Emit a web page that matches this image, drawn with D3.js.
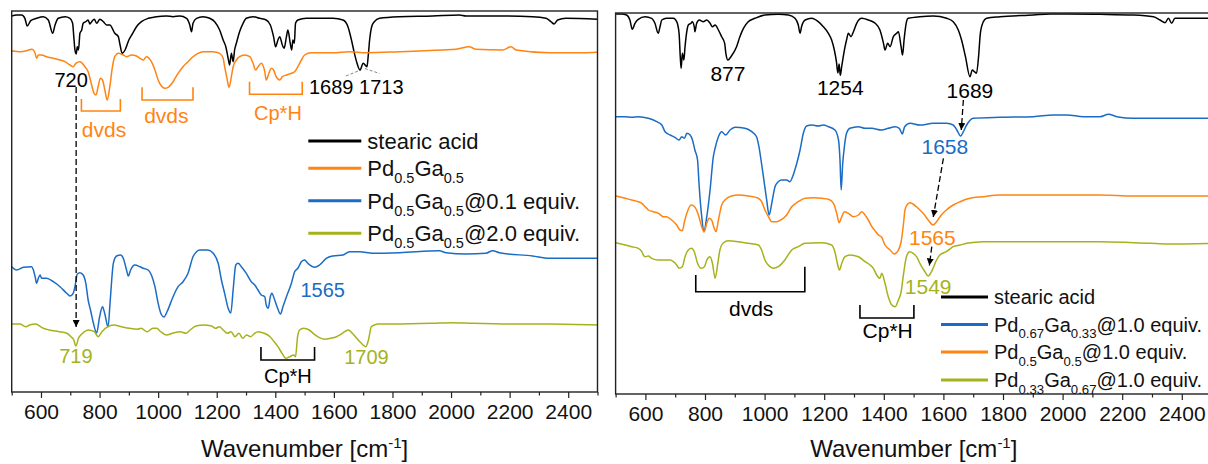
<!DOCTYPE html>
<html>
<head>
<meta charset="utf-8">
<script src="https://cdn.jsdelivr.net/npm/d3@7"></script>
<style>
  html, body { margin: 0; padding: 0; background: #fff; }
  svg { display: block; font-family: "Liberation Sans", Arial, sans-serif; }
</style>
</head>
<body>
<svg id="chart" width="1208" height="464"></svg>
<script>
// ---------- axis ticks ----------
const majorTicks = [600, 800, 1000, 1200, 1400, 1600, 1800, 2000, 2200, 2400];
const minorTicks = [500, 700, 900, 1100, 1300, 1500, 1700, 1900, 2100, 2300, 2500];
const wnDomain = [500, 2500];
const intensityDomain = [0, 381]; // stacked, offset intensity (a.u.)

// ---------- left panel spectra: [wavenumber cm-1, offset intensity] ----------
const stearicA = [[500,376],[517,377],[534,377],[545,373.7],[553,366],[565,371.3],[585,373.7],[608,375.3],[625,372],[640,358.7],[648,367],[659,373.7],[682,375.3],[699,373.7],[708,368.7],[712,355.3],[716,342],[720,338],[724,345.3],[728,342],[733,358.7],[739,362],[744,368.7],[753,370.3],[761,372],[767,368],[773,370.3],[782,372.7],[790,368.7],[801,372.7],[813,370.3],[824,367],[835,367],[852,358.7],[864,355.3],[870,347],[877,338.7],[887,342],[900,352],[913,358.7],[926,365.3],[943,370.3],[966,373.7],[994,375.3],[1028,376],[1051,375.3],[1074,376],[1097,373.7],[1108,367],[1114,360.3],[1119,368.7],[1131,373.7],[1153,375.3],[1176,373.7],[1193,370.3],[1210,362],[1222,352],[1231,345.3],[1239,333.7],[1244,327],[1250,338.7],[1256,330.3],[1261,342],[1267,348.7],[1273,355.3],[1278,360.3],[1290,368.7],[1301,373.7],[1324,375.3],[1347,373.7],[1369,372],[1383,367],[1394,355.3],[1401,345.3],[1409,352],[1415,355.3],[1424,347],[1430,343.7],[1438,355.3],[1443,362],[1451,348.7],[1456,342],[1460,352],[1465,348.7],[1469,368.7],[1477,372],[1506,373.7],[1551,373.7],[1597,373.7],[1631,372],[1648,365.3],[1660,352],[1670,338.7],[1679,328.7],[1689,322],[1700,328.7],[1713,325.3],[1717,335.3],[1722,352],[1729,365.3],[1738,370.3],[1756,373.7],[1824,375.3],[1937,376],[2028,377],[2051,376],[2165,376],[2278,375.3],[2324,373.7],[2341,370.3],[2352,368],[2364,372],[2392,373.7],[2500,372.7]];

const pdga55 = [[500,341.3],[528,340.3],[551,341.3],[568,342.7],[574,342],[580,338.7],[585,333.7],[591,337],[602,337],[619,335.3],[642,333.7],[665,332],[682,330.3],[699,327],[710,325.3],[719,328.7],[733,330.3],[750,325.3],[761,320.3],[773,307],[781,298.7],[788,297],[795,305.3],[803,313.7],[810,312],[818,302],[826,292],[835,305.3],[844,325.3],[852,335.3],[864,338.7],[881,337],[892,335.3],[909,337],[926,336],[938,333.7],[949,332],[960,335.3],[977,330.3],[989,322],[1000,312],[1011,306],[1023,303.7],[1034,304.7],[1051,310.3],[1068,318.7],[1085,325.3],[1102,330.3],[1119,335.3],[1136,338.7],[1153,340.3],[1188,340.3],[1210,338.7],[1222,333.7],[1227,325.3],[1235,313.7],[1242,304.7],[1250,315.3],[1256,325.3],[1267,332],[1278,335.3],[1295,337],[1313,335.3],[1324,328.7],[1333,322],[1341,325.3],[1352,328.7],[1364,320.3],[1369,312],[1378,318.7],[1386,323.7],[1394,322],[1403,315.3],[1415,312],[1424,315.3],[1438,317],[1455,318.7],[1466,320.3],[1477,325.3],[1489,332],[1500,337],[1523,339.3],[1597,339.3],[1653,340.3],[1710,339.3],[1824,340.3],[1972,342],[2017,342.7],[2062,345.3],[2085,342.7],[2176,342],[2205,345.3],[2222,342],[2335,339.3],[2449,339.3],[2500,339.7]];

const pdga55At01 = [[500,125.3],[517,122],[540,124.7],[568,125.3],[574,122],[580,115.3],[585,108.7],[591,113.7],[597,117],[602,113.7],[619,113.7],[642,110.3],[665,105.3],[688,98.7],[699,96],[710,98.7],[716,105.3],[724,118],[733,119.3],[744,117],[753,108.7],[761,92],[769,82],[778,70],[790,59],[800,75],[810,85.3],[818,78],[829,65],[836,90],[847,128.7],[858,136],[872,137],[881,133.7],[892,122],[898,116],[906,122],[920,127],[938,125.3],[949,123.7],[966,122],[977,117],[989,105.3],[1000,88.7],[1010,78],[1020,75],[1030,80],[1051,95.3],[1068,105.3],[1085,110.3],[1102,118.7],[1119,135.3],[1131,140.3],[1142,142],[1170,142],[1188,138.7],[1205,128.7],[1216,112],[1227,98.7],[1239,83.7],[1248,79],[1256,102],[1265,127],[1273,128.7],[1284,125.3],[1301,118.7],[1318,110.3],[1330,107],[1341,102],[1352,97],[1364,95.3],[1369,87],[1376,83.7],[1383,95.3],[1388,98.7],[1398,92],[1406,85.3],[1418,78],[1426,85.3],[1438,95.3],[1455,108.7],[1466,120.3],[1477,123.7],[1489,130.3],[1500,132],[1511,128.7],[1534,124.7],[1551,127],[1574,133.7],[1597,136],[1631,137],[1653,140.3],[1688,140.3],[1733,138.7],[1824,139.3],[1960,141.3],[1983,139.3],[2051,138],[2119,138.7],[2142,141.3],[2165,139.3],[2278,136],[2335,133.7],[2500,133.7]];

const pdga55At20 = [[500,68],[528,68],[548,65.3],[561,67],[581,68],[608,63.7],[628,62],[662,60.3],[688,58.7],[702,55.3],[712,52],[719,46],[728,53.7],[742,58.7],[762,62],[782,60.3],[795,55.3],[808,60.3],[828,65.3],[848,67],[875,65.3],[902,63.7],[929,62.7],[942,63.7],[962,60.3],[982,63.7],[995,63.7],[1009,60.3],[1029,57],[1049,58.7],[1075,60.3],[1095,58.7],[1109,62],[1129,66],[1156,67],[1182,66],[1196,63.7],[1209,65.3],[1222,62],[1236,58.7],[1249,60.3],[1262,55.3],[1276,58.7],[1289,53.7],[1302,57],[1316,55.3],[1329,58.7],[1342,60.3],[1362,58.7],[1382,55.3],[1396,50.3],[1409,45.3],[1423,38.7],[1436,33.7],[1449,35.3],[1463,37],[1469,35.3],[1476,55.3],[1483,62],[1496,63.7],[1516,62],[1529,58.7],[1549,54.7],[1569,52.7],[1589,53.7],[1609,55.3],[1629,58.7],[1649,62],[1663,58.7],[1678,53.7],[1694,48.7],[1709,45.3],[1718,52],[1728,65.3],[1751,68],[1804,68],[1938,68.7],[2005,69.3],[2071,68.7],[2205,68],[2338,68],[2500,67]];

// ---------- right panel spectra ----------
const stearicB = [[500,380],[520,380],[537,379],[548,374],[556,364.7],[565,370.7],[576,374.7],[599,377.3],[621,375.7],[632,370.7],[643,360.7],[649,367.3],[655,374],[671,375.7],[694,375.7],[705,372.3],[713,360.7],[717,337.3],[720,325.7],[724,340.7],[729,334],[733,347.3],[738,360.7],[744,369],[753,370.7],[757,372.3],[764,367.3],[766,362.3],[772,370.7],[781,374],[794,372.3],[806,374],[817,370.7],[825,367.3],[834,369],[845,364],[856,357.3],[866,350.7],[870,340.7],[877,334],[887,337.3],[906,347.3],[917,357.3],[929,365.7],[945,372.3],[968,375.7],[1001,379],[1046,379.7],[1080,379],[1102,375.7],[1113,369],[1119,360.7],[1124,367.3],[1136,374],[1158,375.7],[1180,372.3],[1197,367.3],[1214,360.7],[1225,354],[1234,344],[1241,332.3],[1246,321],[1250,330],[1254,318.7],[1259,328],[1264,337.3],[1270,347.3],[1275,354],[1281,360.7],[1290,357.3],[1298,362.3],[1309,370.7],[1326,375.7],[1348,374],[1371,370.7],[1387,364],[1399,350.7],[1404,344],[1413,350.7],[1421,347.3],[1432,357.3],[1443,360.7],[1449,362.3],[1458,347.3],[1463,339],[1468,354],[1475,370.7],[1482,375.7],[1521,377.3],[1566,378],[1611,375.7],[1633,372.3],[1650,364],[1661,354],[1674,337.3],[1689,317.3],[1697,324],[1704,322.3],[1711,320.7],[1718,337.3],[1724,360.7],[1734,372.3],[1745,375.7],[1790,377.3],[1902,379],[1958,380],[2014,380],[2126,379.7],[2238,379],[2305,377.3],[2327,374],[2344,371.3],[2355,375.7],[2366,370.7],[2377,375.7],[2405,375.7],[2500,375.7]];

const pdga6733At10 = [[500,277.3],[532,277.3],[554,276.7],[576,277.3],[610,275.7],[638,272.3],[655,269],[666,262.3],[683,259],[699,256.7],[713,254],[722,257.3],[731,255.7],[739,260.7],[750,259],[758,254],[766,244],[775,234],[780,210],[789,177.3],[796,162.3],[806,177.3],[817,204],[828,237.3],[834,246],[845,257.3],[856,262.3],[869,259],[884,264],[901,266.7],[934,265.7],[957,262.3],[973,257.3],[981,247.3],[988,234],[996,217.3],[1007,194],[1015,179],[1024,190.7],[1035,207.3],[1046,212.3],[1057,214],[1074,214],[1085,212.3],[1096,219],[1108,230.7],[1119,244],[1130,260.7],[1141,268],[1158,269],[1180,268],[1197,269],[1214,267.3],[1236,264],[1248,254],[1253,234],[1257,204],[1262,230],[1268,248],[1275,260.7],[1286,265.7],[1315,267.3],[1337,265.7],[1359,265.7],[1393,264],[1415,265.7],[1438,267.3],[1452,265.7],[1462,260],[1470,267.3],[1488,270.7],[1522,269],[1566,270.7],[1611,270.7],[1633,269],[1645,264],[1658,258],[1667,262.3],[1678,269],[1700,275.7],[1790,276.7],[1902,277.3],[1969,279],[2014,279],[2070,277.3],[2126,277.3],[2154,279.7],[2182,277.3],[2238,275.7],[2350,275.7],[2500,275.7]];

const pdga55At10 = [[500,198],[532,195.7],[554,194],[576,192.3],[588,190.7],[599,187.3],[610,184],[627,182.3],[644,180.7],[660,177.3],[671,177.3],[688,174],[705,169],[716,164],[724,163.3],[731,172.3],[739,180.7],[753,189],[765,187.3],[776,180.7],[789,167.3],[797,162.3],[806,170.7],[814,175.7],[822,174],[831,165.7],[837,162.3],[845,174],[856,189],[867,194],[890,198],[912,199],[946,198],[979,195.7],[990,192.3],[1001,184],[1013,177.3],[1024,172.3],[1041,172.3],[1058,174.7],[1074,179],[1091,187.3],[1113,192.3],[1136,195.7],[1164,196.3],[1192,195.7],[1214,194.7],[1231,190.7],[1242,180.7],[1250,171.3],[1259,177.3],[1268,182.3],[1281,180.7],[1298,177.3],[1315,179],[1326,182.3],[1337,179],[1348,174],[1360,167.3],[1373,162.3],[1382,159],[1393,156.7],[1404,149],[1421,144],[1435,140],[1449,144],[1458,152],[1466,170],[1471,184],[1478,189],[1487,191.3],[1498,190],[1515,185.7],[1532,180.7],[1549,174],[1565,169],[1577,172.3],[1593,179],[1610,184],[1633,189],[1656,192.3],[1689,195.7],[1734,197.3],[1790,199],[1902,199],[2014,199],[2126,199],[2238,198],[2350,198],[2500,198]];

const pdga3367At10 = [[500,151.3],[532,149],[554,147.3],[576,145.7],[588,142.3],[593,139],[599,137.3],[610,138],[621,135.7],[644,134],[666,134],[683,134],[694,132.3],[705,129],[713,125.7],[724,127.3],[733,137.3],[744,144],[755,145.7],[764,142.3],[775,130.7],[787,125.7],[798,127.3],[806,134],[817,137.3],[825,130.7],[834,115.7],[843,130.7],[850,144],[862,151.3],[878,153.3],[912,152.3],[946,150.7],[979,149],[990,144],[1001,134],[1018,127.3],[1029,125.7],[1046,127.3],[1068,134],[1091,144],[1113,147.3],[1136,150.7],[1192,151.3],[1225,149],[1237,140.7],[1244,130.7],[1251,124],[1259,130.7],[1270,137.3],[1286,139],[1315,137.3],[1337,132.3],[1354,129],[1365,125.7],[1376,119],[1387,115.7],[1393,120.7],[1404,110.7],[1415,97.3],[1427,89],[1438,87.3],[1449,94],[1458,102],[1465,117.3],[1476,137.3],[1487,142.3],[1498,140.7],[1510,137.3],[1521,130.7],[1538,122.3],[1549,118],[1560,122.3],[1577,134],[1588,139],[1610,142.3],[1633,147.3],[1656,149],[1678,150.7],[1734,152.3],[1790,152.3],[2014,152.3],[2126,152.3],[2238,151.3],[2294,150.7],[2350,150],[2500,150.7]];

// ---------- colours ----------
const C = { black: "#000000", orange: "#ff8412", blue: "#1a6cc4", olive: "#a6b21b" };

// ---------- legend entries (text split into normal / subscript runs) ----------
const legendLeft = [
  { color: C.black,  parts: [["stearic acid", 0]] },
  { color: C.orange, parts: [["Pd", 0], ["0.5", 1], ["Ga", 0], ["0.5", 1]] },
  { color: C.blue,   parts: [["Pd", 0], ["0.5", 1], ["Ga", 0], ["0.5", 1], ["@0.1 equiv.", 0]] },
  { color: C.olive,  parts: [["Pd", 0], ["0.5", 1], ["Ga", 0], ["0.5", 1], ["@2.0 equiv.", 0]] }
];
const legendRight = [
  { color: C.black,  parts: [["stearic acid", 0]] },
  { color: C.blue,   parts: [["Pd", 0], ["0.67", 1], ["Ga", 0], ["0.33", 1], ["@1.0 equiv.", 0]] },
  { color: C.orange, parts: [["Pd", 0], ["0.5", 1], ["Ga", 0], ["0.5", 1], ["@1.0 equiv.", 0]] },
  { color: C.olive,  parts: [["Pd", 0], ["0.33", 1], ["Ga", 0], ["0.67", 1], ["@1.0 equiv.", 0]] }
];

const svg = d3.select("#chart");

const defs = svg.append("defs");
defs.append("marker")
  .attr("id", "arrowHead")
  .attr("viewBox", "0 0 10 10")
  .attr("refX", 10).attr("refY", 5)
  .attr("markerWidth", 7).attr("markerHeight", 7)
  .attr("markerUnits", "userSpaceOnUse")
  .attr("orient", "auto")
  .append("path").attr("d", "M0,0 L10,5 L0,10 z").attr("fill", "#000");

function buildPanel(id, box) {
  const x = d3.scaleLinear().domain(wnDomain).range([box.left, box.right]);
  const y = d3.scaleLinear().domain(intensityDomain).range([box.bottom, box.top]);
  const g = svg.append("g").attr("id", id);

  defs.append("clipPath").attr("id", id + "-clip")
    .append("rect")
    .attr("x", box.left).attr("y", box.top)
    .attr("width", box.right - box.left).attr("height", box.bottom - box.top);

  const plot = g.append("g").attr("clip-path", `url(#${id}-clip)`);

  // bottom axis: labelled major ticks and short minor ticks
  const axisMajor = g.append("g")
    .attr("transform", `translate(0,${box.bottom})`)
    .call(d3.axisBottom(x).tickValues(majorTicks).tickSize(6).tickPadding(6).tickFormat(d3.format("d")));
  axisMajor.select(".domain").remove();
  axisMajor.selectAll("line").attr("stroke", "#222").attr("stroke-width", 1.2);
  axisMajor.selectAll("text").attr("font-size", 21).attr("fill", "#111")
    .attr("font-family", '"Liberation Sans", Arial, sans-serif');

  const axisMinor = g.append("g")
    .attr("transform", `translate(0,${box.bottom})`)
    .call(d3.axisBottom(x).tickValues(minorTicks).tickSize(3.5).tickFormat(""));
  axisMinor.select(".domain").remove();
  axisMinor.selectAll("line").attr("stroke", "#222").attr("stroke-width", 1.2);

  // frame
  g.append("rect")
    .attr("x", box.left).attr("y", box.top)
    .attr("width", box.right - box.left).attr("height", box.bottom - box.top)
    .attr("fill", "none").attr("stroke", "#222").attr("stroke-width", 1.4);

  // axis title
  const title = g.append("text")
    .attr("x", (box.left + Math.min(box.right, 1208)) / 2 + (box.right > 1208 ? 2 : 0))
    .attr("y", 457)
    .attr("text-anchor", "middle")
    .attr("font-size", 24).attr("fill", "#111");
  title.append("tspan").text("Wavenumber [cm");
  title.append("tspan").attr("font-size", 15).attr("dy", -9).text("-1");
  title.append("tspan").attr("dy", 9).text("]");

  return { x, y, g, plot };
}

const lineGen = (p) => d3.line()
  .x(d => p.x(d[0]))
  .y(d => p.y(d[1]))
  .curve(d3.curveMonotoneX);

function drawSpectrum(p, data, color, width) {
  p.plot.append("path")
    .datum(data)
    .attr("fill", "none")
    .attr("stroke", color)
    .attr("stroke-width", width || 1.5)
    .attr("stroke-linejoin", "round")
    .attr("d", lineGen(p));
}

function label(p, text, wn, v, color, size) {
  p.g.append("text")
    .attr("x", p.x(wn)).attr("y", p.y(v))
    .attr("text-anchor", "middle")
    .attr("dominant-baseline", "central")
    .attr("font-size", size || 20)
    .attr("fill", color)
    .text(text);
}

function bracket(p, w0, w1, vTop0, vTop1, vBottom, color) {
  const pts = [[w0, vTop0], [w0, vBottom], [w1, vBottom], [w1, vTop1]];
  p.g.append("path")
    .attr("d", d3.line().x(d => p.x(d[0])).y(d => p.y(d[1]))(pts))
    .attr("fill", "none").attr("stroke", color).attr("stroke-width", 1.6);
}

function arrow(p, w0, v0, w1, v1, dashed) {
  p.g.append("line")
    .attr("x1", p.x(w0)).attr("y1", p.y(v0))
    .attr("x2", p.x(w1)).attr("y2", p.y(v1))
    .attr("stroke", "#000").attr("stroke-width", 1.3)
    .attr("stroke-dasharray", dashed ? "6,3" : null)
    .attr("marker-end", "url(#arrowHead)");
}

function legend(g, entries, x0, rows, lineLen, fontSize, lineWidth) {
  entries.forEach((e, i) => {
    const yy = rows[i];
    g.append("line")
      .attr("x1", x0).attr("x2", x0 + lineLen)
      .attr("y1", yy).attr("y2", yy)
      .attr("stroke", e.color).attr("stroke-width", lineWidth);
    const t = g.append("text")
      .attr("x", x0 + lineLen + 6).attr("y", yy + fontSize * 0.36)
      .attr("font-size", fontSize).attr("fill", "#111");
    let shifted = false;
    e.parts.forEach(([s, sub]) => {
      const ts = t.append("tspan").text(s);
      if (sub && !shifted) { ts.attr("dy", fontSize * 0.32).attr("font-size", fontSize * 0.66); shifted = true; }
      else if (sub) { ts.attr("font-size", fontSize * 0.66); }
      else if (shifted) { ts.attr("dy", -fontSize * 0.32); shifted = false; }
    });
  });
}

// ================= left panel =================
const L = buildPanel("left", { left: 11.7, right: 597.5, top: 11, bottom: 392 });

drawSpectrum(L, stearicA, C.black, 1.5);
drawSpectrum(L, pdga55, C.orange, 1.5);
drawSpectrum(L, pdga55At01, C.blue, 1.5);
drawSpectrum(L, pdga55At20, C.olive, 1.5);

label(L, "720", 703, 312, C.black, 20);
arrow(L, 720, 305, 720, 65, true);
label(L, "1689", 1591, 304.7, C.black, 20);
label(L, "1713", 1762, 304.7, C.black, 20);
[[1641, 316, 1683, 321], [1706, 323.5, 1756, 318.5]].forEach(s => {
  L.g.append("line")
    .attr("x1", L.x(s[0])).attr("y1", L.y(s[1]))
    .attr("x2", L.x(s[2])).attr("y2", L.y(s[3]))
    .attr("stroke", "#666").attr("stroke-width", 0.8).attr("stroke-dasharray", "3,2");
});

bracket(L, 738, 871, 293, 293, 281, C.orange);
label(L, "dvds", 815, 263, C.orange, 21);
bracket(L, 945, 1119, 304.7, 304.7, 292, C.orange);
label(L, "dvds", 1028, 277, C.orange, 21);
bracket(L, 1312, 1492, 310.3, 310.3, 297.7, C.orange);
label(L, "Cp*H", 1409, 278.7, C.orange, 20);

label(L, "1565", 1562, 102, C.blue, 20);
label(L, "719", 719, 36, C.olive, 20);
label(L, "1709", 1711, 35, C.olive, 20);
bracket(L, 1351, 1534, 45, 45, 32, C.black);
label(L, "Cp*H", 1443, 16, C.black, 20);

legend(L.g, legendLeft, 308.3, [141, 168.3, 200.7, 233.3], 53, 22, 3);

// ================= right panel =================
const R = buildPanel("right", { left: 615.6, right: 1211.6, top: 13, bottom: 394 });

drawSpectrum(R, stearicB, C.black, 1.5);
drawSpectrum(R, pdga6733At10, C.blue, 1.5);
drawSpectrum(R, pdga55At10, C.orange, 1.5);
drawSpectrum(R, pdga3367At10, C.olive, 1.5);

label(R, "877", 877, 320.7, C.black, 21);
label(R, "1254", 1254, 306.7, C.black, 21);
label(R, "1689", 1689, 303.3, C.black, 21);
arrow(R, 1667, 294, 1660, 264, true);
label(R, "1658", 1605, 247.3, C.blue, 21);
arrow(R, 1600, 235.7, 1566, 177, true);
label(R, "1565", 1563, 156.7, C.orange, 21);
arrow(R, 1561, 147.3, 1553, 128.5, true);
label(R, "1549", 1549, 108, C.olive, 21);

bracket(R, 769, 1135, 119, 127.3, 102.3, C.black);
label(R, "dvds", 955, 86, C.black, 21);
bracket(R, 1320, 1501, 89, 89, 76, C.black);
label(R, "Cp*H", 1413, 64, C.black, 21);

legend(R.g, legendRight, 941, [297, 324.5, 352, 380], 47, 20, 3);
</script>
</body>
</html>
